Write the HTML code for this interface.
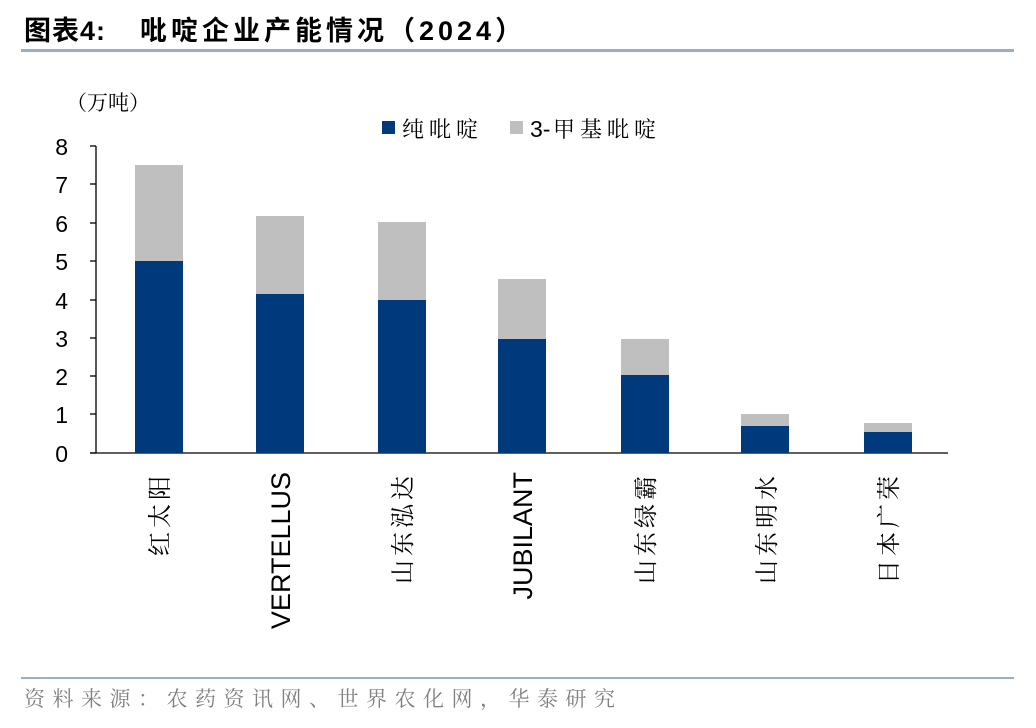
<!DOCTYPE html>
<html><head><meta charset="utf-8"><style>
body{margin:0;background:#fff;}
svg{display:block;}
.s{font-family:"Liberation Sans","Noto Sans CJK SC",sans-serif;}
.c{font-family:"Noto Serif CJK SC","Noto Sans CJK SC",serif;}
</style></head><body>
<svg width="1036" height="728" viewBox="0 0 1036 728" xmlns="http://www.w3.org/2000/svg">
<text class="s" x="24" y="40" font-size="27" font-weight="bold" fill="#000" style="letter-spacing:1px">图表4:</text>
<text class="s" x="140" y="40" font-size="27" font-weight="bold" fill="#000" style="letter-spacing:4px">吡啶企业产能情况（2024）</text>
<rect x="21" y="49" width="993" height="3" fill="#9aafc6"/>
<text class="c" x="66" y="110" font-size="21" fill="#000">（万吨）</text>
<rect x="382" y="121" width="13" height="13" fill="#003a7d"/>
<text class="c" x="402" y="137" font-size="22" fill="#000" style="letter-spacing:5px">纯吡啶</text>
<rect x="510" y="121" width="13" height="13" fill="#bfbfbf"/>
<text class="s" x="530" y="137" font-size="23" fill="#000">3-</text>
<text class="c" x="553" y="137" font-size="22" fill="#000" style="letter-spacing:5px">甲基吡啶</text>
<g class="s" font-size="23" fill="#000" text-anchor="end">
<text x="68" y="155">8</text><text x="68" y="193">7</text><text x="68" y="232">6</text><text x="68" y="270">5</text><text x="68" y="309">4</text><text x="68" y="347">3</text><text x="68" y="385">2</text><text x="68" y="423">1</text><text x="68" y="462">0</text>
</g>
<g stroke="#000" stroke-width="1.3">
<line x1="96" y1="146" x2="96" y2="453"/>
<line x1="90" y1="146" x2="96" y2="146"/><line x1="90" y1="184" x2="96" y2="184"/><line x1="90" y1="223" x2="96" y2="223"/><line x1="90" y1="261" x2="96" y2="261"/><line x1="90" y1="300" x2="96" y2="300"/><line x1="90" y1="338" x2="96" y2="338"/><line x1="90" y1="376" x2="96" y2="376"/><line x1="90" y1="414" x2="96" y2="414"/><line x1="90" y1="453" x2="96" y2="453"/>
<line x1="90" y1="453" x2="948" y2="453"/>
</g>
<g fill="#bfbfbf">
<rect x="135" y="165" width="48" height="96"/>
<rect x="256" y="216" width="48" height="78"/>
<rect x="378" y="222" width="48" height="78"/>
<rect x="498" y="279" width="48" height="60"/>
<rect x="621" y="339" width="48" height="36"/>
<rect x="741" y="414" width="48" height="12"/>
<rect x="864" y="423" width="48" height="9"/>
</g>
<g fill="#003a7d">
<rect x="135" y="261" width="48" height="192"/>
<rect x="256" y="294" width="48" height="159"/>
<rect x="378" y="300" width="48" height="153"/>
<rect x="498" y="339" width="48" height="114"/>
<rect x="621" y="375" width="48" height="78"/>
<rect x="741" y="426" width="48" height="27"/>
<rect x="864" y="432" width="48" height="21"/>
</g>
<g font-size="24" fill="#000" text-anchor="end">
<text class="c" transform="translate(168,472) rotate(-90)" style="letter-spacing:4px">红太阳</text>
<text class="s" font-size="27" transform="translate(290,472) rotate(-90)">VERTELLUS</text>
<text class="c" transform="translate(411,472) rotate(-90)" style="letter-spacing:4px">山东泓达</text>
<text class="s" font-size="27" transform="translate(532,472) rotate(-90)">JUBILANT</text>
<text class="c" transform="translate(654,472) rotate(-90)" style="letter-spacing:4px">山东绿霸</text>
<text class="c" transform="translate(775,472) rotate(-90)" style="letter-spacing:4px">山东明水</text>
<text class="c" transform="translate(897,472) rotate(-90)" style="letter-spacing:4px">日本广荣</text>
</g>
<rect x="21" y="677" width="993" height="2" fill="#9aafc6"/>
<text class="c" x="24" y="706" font-size="21" fill="#808080" style="letter-spacing:7.5px">资料来源：农药资讯网、世界农化网，华泰研究</text>
</svg>
</body></html>
